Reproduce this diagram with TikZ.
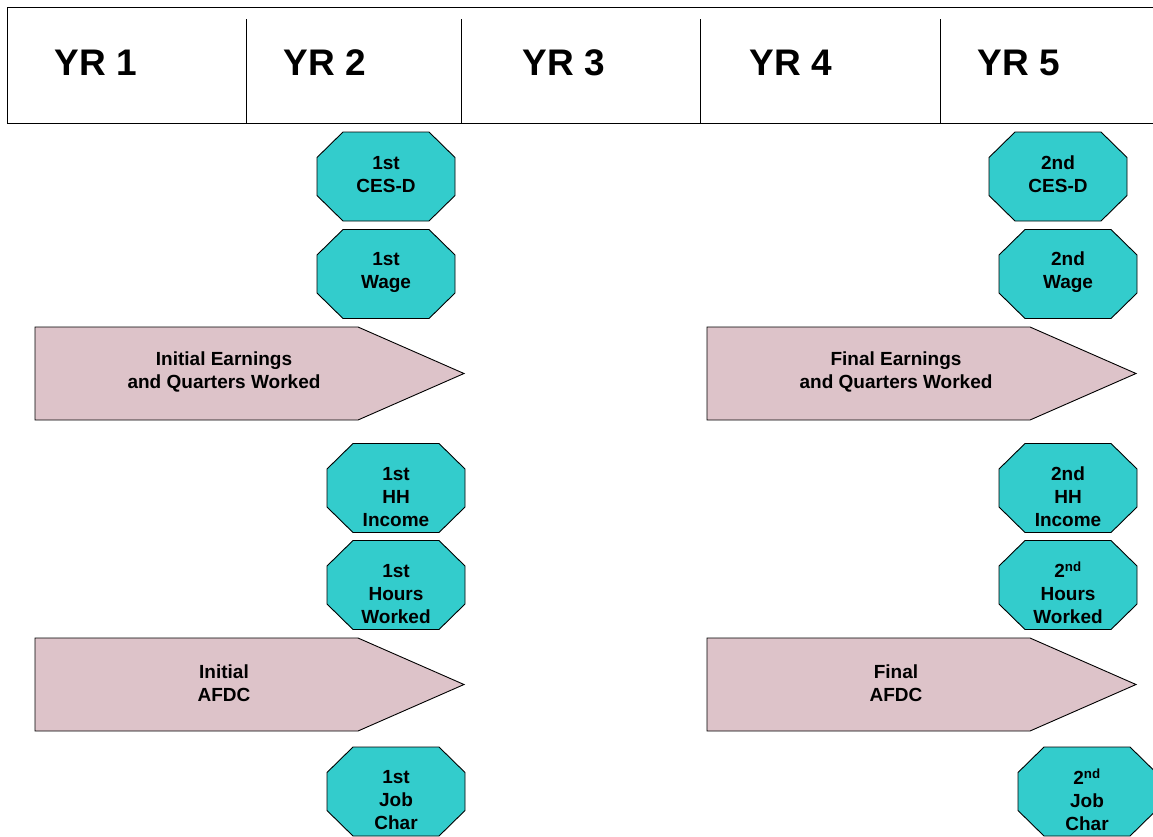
\documentclass[tikz,border=0pt]{standalone}
\usepackage{fontspec}
\setmainfont{Liberation Sans}
\definecolor{octcol}{RGB}{51,204,204}
\definecolor{arrcol}{RGB}{221,195,201}
\tikzset{
  octshape/.style={fill=octcol,draw=black,line width=0.9pt,line join=miter},
  arrshape/.style={fill=arrcol,draw=black,line width=0.9pt},
  octtext/.style={align=center,font=\fontsize{19}{23}\selectfont\bfseries,inner sep=0pt},
  arrtext/.style={align=center,font=\fontsize{19}{23}\selectfont\bfseries,inner sep=0pt},
  yrtext/.style={font=\fontsize{37}{40}\selectfont\bfseries,inner sep=0pt},
  hdrline/.style={draw=black,line width=1pt}
}
\newcommand\myoct[5]{%
  \draw[octshape,shift={(#2,#3)}] (-69,-19) -- (-69,19) -- (-43,44.5) -- (43,44.5) -- (69,19) -- (69,-19) -- (43,-44.5) -- (-43,-44.5) -- cycle;
  \node[octtext] (#1) at (#2,#3+#5) {#4};}
\newcommand\myarr[4]{%
  \draw[arrshape,shift={(#2,#3)}] (0,0) -- (323,0) -- (429,46.5) -- (323,93) -- (0,93) -- cycle;
  \node[arrtext] (#1) at (#2+189,#3+45) {#4};}
\begin{document}
\begin{tikzpicture}[x=1pt,y=-1pt]
\useasboundingbox (0,0) rectangle (1153,836);
% header
\draw[hdrline] (1170,7) -- (7,7) -- (7,123) -- (1170,123);
\foreach \x in {246,461,700,940} \draw[hdrline] (\x,19) -- (\x,123);
\node[yrtext] (y1) at (96,63) {YR 1};
\node[yrtext] (y2) at (325,63) {YR 2};
\node[yrtext] (y3) at (564,63) {YR 3};
\node[yrtext] (y4) at (791,63) {YR 4};
\node[yrtext] (y5) at (1019,63) {YR 5};
% octagons
\myoct{ces1}{386}{176.5}{1st\\CES-D}{-2}
\myoct{wage1}{386}{274}{1st\\Wage}{-2}
\myoct{hh1}{396}{488}{1st\\HH\\Income}{9}
\myoct{hrs1}{396}{585}{1st\\Hours\\Worked}{9}
\myoct{job1}{396}{791.5}{1st\\Job\\Char}{9}
\myoct{ces2}{1058}{176.5}{2nd\\CES-D}{-2}
\myoct{wage2}{1068}{274}{2nd\\Wage}{-2}
\myoct{hh2}{1068}{488}{2nd\\HH\\Income}{9}
\myoct{hrs2}{1068}{585}{2\textsuperscript{nd}\\Hours\\Worked}{8}
\myoct{job2}{1087}{791.5}{2\textsuperscript{nd}\\Job\\Char}{8}
% arrows
\myarr{earn1}{35}{327}{Initial Earnings\\and Quarters Worked}
\myarr{earn2}{707}{327}{Final Earnings\\and Quarters Worked}
\myarr{afdc1}{35}{638}{Initial\\AFDC}
\myarr{afdc2}{707}{638}{Final\\AFDC}
\end{tikzpicture}
\end{document}
